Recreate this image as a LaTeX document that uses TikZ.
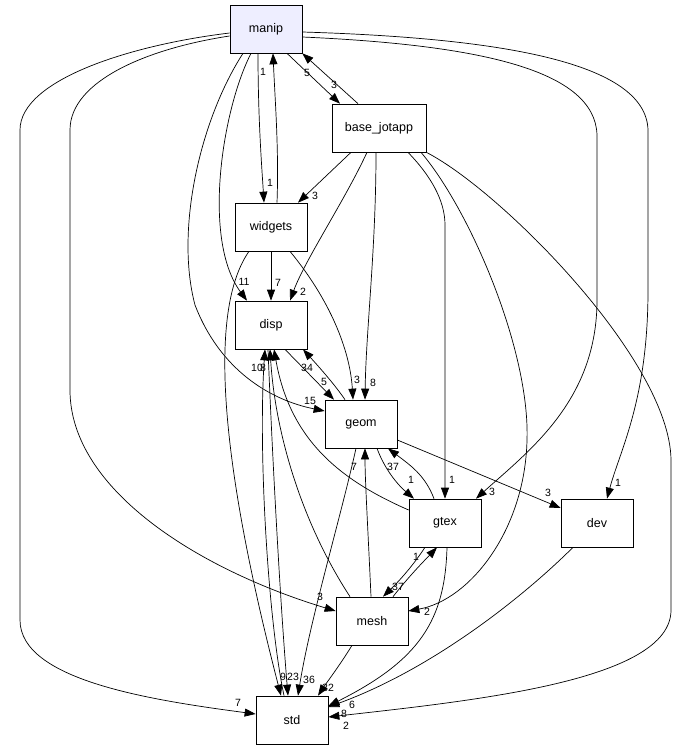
\documentclass[tikz,border=0pt]{standalone}
\usepackage{fontspec}
\setmainfont{Liberation Sans}
\usetikzlibrary{arrows.meta}
\definecolor{manipfill}{RGB}{238,238,255}

\begin{document}
\begin{tikzpicture}[x=1pt,y=-1pt,line width=0.7pt,>={Triangle[length=11pt,width=8pt]},
  dirbox/.style={draw,minimum width=72pt,minimum height=48pt,inner sep=0pt,font=\fontsize{12.5}{15}\selectfont},
  lbl/.style={inner sep=0pt,font=\fontsize{10.5}{12}\selectfont}]
  \fill[white] (0,0) rectangle (689,749);
  % directories
  \node[dirbox,fill=manipfill] (manip) at (266,29) {manip};
  \node[dirbox,minimum width=94pt] (bjot) at (379,128) {base\_jotapp};
  \node[dirbox] (widgets) at (271,227) {widgets};
  \node[dirbox] (disp) at (271,325) {disp};
  \node[dirbox] (geom) at (361,424) {geom};
  \node[dirbox] (gtex) at (445,523) {gtex};
  \node[dirbox] (dev) at (597,523) {dev};
  \node[dirbox] (mesh) at (372,621) {mesh};
  \node[dirbox] (std) at (292,720) {std};

  % from manip
  \draw[->] ([xshift=21pt]manip.south) -- ([xshift=-39pt]bjot.north);
  \draw[->] ([xshift=-21pt]bjot.north) -- (manip.south east);
  \draw[->] ([xshift=-8pt]manip.south) .. controls (258,120) and (262,170) .. ([xshift=-7pt]widgets.north);
  \draw[->] ([xshift=6pt]widgets.north) .. controls (279,150) and (275,100) .. ([xshift=7pt]manip.south);
  \draw[->] ([xshift=-15pt]manip.south) .. controls (222,110) and (202,240) .. ([xshift=-24pt]disp.north);
  \draw[->] ([xshift=-23pt]manip.south) .. controls (200,120) and (175,230) .. (195,305)
    .. controls (220,370) and (270,400) .. ([yshift=13pt]geom.west);
  \draw[->] ([yshift=-7pt]manip.west) .. controls (150,48) and (70,80) .. (70,130) -- (70,390)
    .. controls (70,490) and (200,570) .. ([yshift=10pt]mesh.west);
  \draw[->] ([yshift=-4pt]manip.west) .. controls (130,45) and (20,80) .. (20,130) -- (20,620)
    .. controls (20,680) and (150,700) .. ([yshift=6pt]std.west);
  \draw[->] ([yshift=-8pt]manip.east) .. controls (480,45) and (595,70) .. (597,135) -- (597,300)
    .. controls (597,400) and (530,450) .. ([xshift=31pt]gtex.north);
  \draw[->] ([yshift=-3pt]manip.east) .. controls (500,38) and (646,62) .. (648,130) -- (648,290)
    .. controls (648,400) and (620,450) .. ([xshift=10pt]dev.north);

  % from base_jotapp
  \draw[->] ([xshift=-28pt]bjot.south) -- ([xshift=27pt]widgets.north);
  \draw[->] ([xshift=-12pt]bjot.south) .. controls (345,200) and (305,260) .. ([xshift=19pt]disp.north);
  \draw[->] ([xshift=-3pt]bjot.south) .. controls (376,250) and (366,330) .. ([xshift=4pt]geom.north);
  \draw[->] ([xshift=29pt]bjot.south) .. controls (430,175) and (445,200) .. (445,225) -- (gtex.north);
  \draw[->] ([xshift=42pt]bjot.south) .. controls (470,210) and (530,350) .. (527,440)
    .. controls (525,530) and (470,600) .. ([yshift=10pt]mesh.east);
  \draw[->] (bjot.south east) .. controls (500,190) and (670,360) .. (671,460) -- (671,610)
    .. controls (671,680) and (480,700) .. ([yshift=3pt]std.east);

  % from widgets and disp
  \draw[->] (widgets.south) -- (disp.north);
  \draw[->] ([xshift=19pt]widgets.south) .. controls (330,300) and (350,350) .. ([xshift=-8pt]geom.north);
  \draw[->] ([xshift=-22pt]widgets.south) .. controls (208,310) and (220,460) .. ([xshift=-11pt]std.north);
  \draw[->] ([xshift=14pt]disp.south) -- ([xshift=-27pt]geom.north);
  \draw[->] ([xshift=-3pt]disp.south) .. controls (272,450) and (280,600) .. ([xshift=-4pt]std.north);
  \draw[->] ([xshift=-8pt]std.north) .. controls (268,620) and (258,450) .. ([xshift=-6pt]disp.south);

  % from geom, gtex, mesh, dev
  \draw[->] ([xshift=-16pt]geom.north) .. controls (335,385) and (320,368) .. ([xshift=32pt]disp.south);
  \draw[->] ([yshift=13pt]gtex.west) .. controls (340,480) and (290,440) .. ([xshift=3pt]disp.south);
  \draw[->] ([xshift=-22pt]mesh.north) .. controls (300,520) and (275,430) .. ([xshift=-1pt]disp.south);
  \draw[->] ([xshift=16pt]geom.south) .. controls (385,470) and (398,485) .. ([xshift=-31pt]gtex.north);
  \draw[->] ([xshift=-11pt]gtex.north) .. controls (425,475) and (410,465) .. ([xshift=27pt]geom.south);
  \draw[->] ([yshift=-16pt]geom.east) -- ([yshift=15pt]dev.west);
  \draw[->] ([xshift=-5pt]geom.south) .. controls (340,520) and (310,620) .. ([xshift=6pt]std.north);
  \draw[->] ([xshift=-20pt]gtex.south) .. controls (410,570) and (395,585) .. ([xshift=11pt]mesh.north);
  \draw[->] ([xshift=21pt]mesh.north) .. controls (410,575) and (425,560) .. ([xshift=-8pt]gtex.south);
  \draw[->] ([xshift=-1pt]mesh.north) .. controls (368,530) and (365,480) .. ([xshift=4pt]geom.south);
  \draw[->] ([xshift=-20pt]mesh.south) .. controls (340,665) and (325,685) .. ([xshift=26pt]std.north);
  \draw[->] ([xshift=2pt]gtex.south) .. controls (445,620) and (420,660) .. ([yshift=14pt]std.east);
  \draw[->] ([xshift=-24pt]dev.south) .. controls (520,600) and (430,670) .. ([yshift=13pt]std.east);

  % edge labels
  \node[lbl] at (307,73) {5};
  \node[lbl] at (334,85) {3};
  \node[lbl] at (263,72) {1};
  \node[lbl] at (270,183) {1};
  \node[lbl] at (315,196) {3};
  \node[lbl] at (244,282) {11};
  \node[lbl] at (278,283) {7};
  \node[lbl] at (303,292) {2};
  \node[lbl] at (257,368) {10};
  \node[lbl] at (263,368) {8};
  \node[lbl] at (307,368) {34};
  \node[lbl] at (324,382) {5};
  \node[lbl] at (357,380) {3};
  \node[lbl] at (373,383) {8};
  \node[lbl] at (310,401) {15};
  \node[lbl] at (354,467) {7};
  \node[lbl] at (393,467) {37};
  \node[lbl] at (411,480) {1};
  \node[lbl] at (452,480) {1};
  \node[lbl] at (492,492) {3};
  \node[lbl] at (548,493) {3};
  \node[lbl] at (618,483) {1};
  \node[lbl] at (416,557) {1};
  \node[lbl] at (398,587) {37};
  \node[lbl] at (320,597) {3};
  \node[lbl] at (427,612) {2};
  \node[lbl] at (283,677) {9};
  \node[lbl] at (293,677) {23};
  \node[lbl] at (309,680) {36};
  \node[lbl] at (328,688) {32};
  \node[lbl] at (238,703) {7};
  \node[lbl] at (352,705) {6};
  \node[lbl] at (344,714) {8};
  \node[lbl] at (346,726) {2};
\end{tikzpicture}
\end{document}
